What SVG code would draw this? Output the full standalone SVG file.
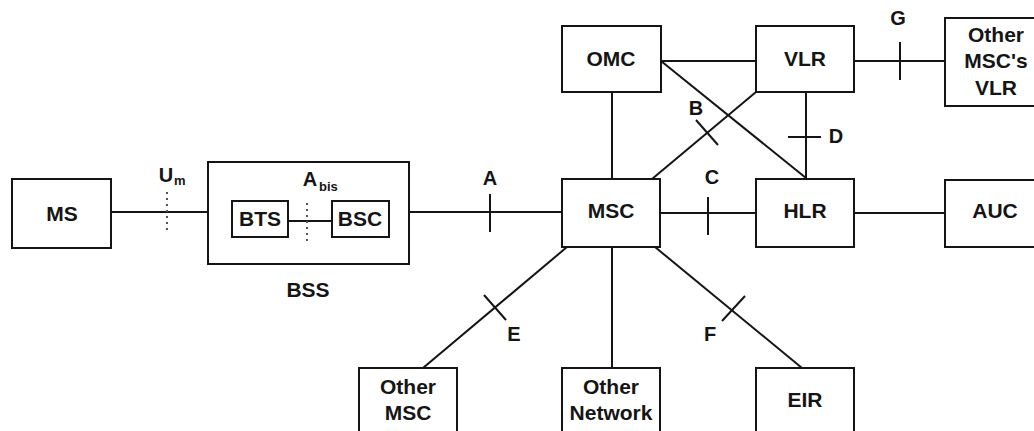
<svg xmlns="http://www.w3.org/2000/svg" width="1034" height="431" viewBox="0 0 1034 431">
<style>
.box{fill:#fff;stroke:#151515;stroke-width:2}
.ln{stroke:#151515;stroke-width:2;fill:none}
.dot{stroke:#555;stroke-width:2;stroke-dasharray:2 4;fill:none}
text{font-family:"Liberation Sans",Arial,sans-serif;font-weight:bold;fill:#151515;text-anchor:middle}
.t{font-size:21px}
.lb{font-size:20px}
.sub{font-size:13px;text-anchor:start}
</style>
<rect width="1034" height="431" fill="#fff"/>
<g id="MS"><rect class="box" x="12" y="179" width="99" height="69"/><text class="t" x="62" y="221">MS</text></g>
<g id="BSS"><rect class="box" x="208" y="162" width="201" height="102"/><text class="t" x="308" y="297">BSS</text></g>
<g id="BTS"><rect class="box" x="232" y="201" width="56" height="36"/><text class="t" x="260" y="226">BTS</text></g>
<g id="BSC"><rect class="box" x="332" y="201" width="57" height="36"/><text class="t" x="360" y="226">BSC</text></g>
<g id="OMC"><rect class="box" x="562" y="26" width="99" height="66"/><text class="t" x="611" y="66">OMC</text></g>
<g id="VLR"><rect class="box" x="756" y="26" width="98" height="66"/><text class="t" x="805" y="66">VLR</text></g>
<g id="OtherVLR"><rect class="box" x="945" y="18" width="102" height="88"/><text class="t" x="996" y="42">Other</text><text class="t" x="996" y="68">MSC's</text><text class="t" x="996" y="95">VLR</text></g>
<g id="MSC"><rect class="box" x="562" y="179" width="98" height="68"/><text class="t" x="611" y="218">MSC</text></g>
<g id="HLR"><rect class="box" x="756" y="179" width="98" height="68"/><text class="t" x="805" y="218">HLR</text></g>
<g id="AUC"><rect class="box" x="945" y="180" width="102" height="67"/><text class="t" x="995" y="218">AUC</text></g>
<g id="OtherMSC"><rect class="box" x="359" y="368" width="98" height="70"/><text class="t" x="408" y="394">Other</text><text class="t" x="408" y="420">MSC</text></g>
<g id="OtherNetwork"><rect class="box" x="562" y="368" width="98" height="70"/><text class="t" x="611" y="394">Other</text><text class="t" x="611" y="420">Network</text></g>
<g id="EIR"><rect class="box" x="756" y="368" width="98" height="70"/><text class="t" x="805" y="407">EIR</text></g>
<g id="connectors">
<line class="ln" x1="111" y1="212" x2="208" y2="212"/>
<line class="ln" x1="288" y1="221" x2="332" y2="221"/>
<line class="ln" x1="409" y1="212" x2="562" y2="212"/>
<line class="ln" x1="660" y1="213" x2="756" y2="213"/>
<line class="ln" x1="854" y1="213" x2="945" y2="213"/>
<line class="ln" x1="661" y1="61" x2="756" y2="61"/>
<line class="ln" x1="854" y1="61" x2="945" y2="61"/>
<line class="ln" x1="612" y1="92" x2="612" y2="179"/>
<line class="ln" x1="806" y1="92" x2="806" y2="179"/>
<line class="ln" x1="661" y1="61" x2="806" y2="178"/>
<line class="ln" x1="652" y1="179" x2="756" y2="92"/>
<line class="ln" x1="567" y1="247" x2="423" y2="368"/>
<line class="ln" x1="612" y1="247" x2="612" y2="368"/>
<line class="ln" x1="655" y1="247" x2="802" y2="368"/>
<line class="ln" x1="490" y1="194" x2="490" y2="232"/>
<line class="ln" x1="708" y1="197" x2="708" y2="235"/>
<line class="ln" x1="900" y1="42" x2="900" y2="80"/>
<line class="ln" x1="788" y1="137" x2="821" y2="137"/>
<line class="ln" x1="696" y1="120" x2="718" y2="145"/>
<line class="ln" x1="484" y1="295" x2="506" y2="320"/>
<line class="ln" x1="722" y1="321" x2="745" y2="296"/>
<line class="dot" x1="167" y1="192" x2="167" y2="232"/>
<line class="dot" x1="307" y1="203" x2="307" y2="241"/>
<text class="lb" x="166" y="182">U</text><text class="sub" x="174" y="185">m</text>
<text class="lb" x="310" y="186">A</text><text class="sub" x="319" y="191">bis</text>
<text class="lb" x="490" y="185">A</text>
<text class="lb" x="696" y="115">B</text>
<text class="lb" x="712" y="184">C</text>
<text class="lb" x="836" y="143">D</text>
<text class="lb" x="898" y="25">G</text>
<text class="lb" x="514" y="341">E</text>
<text class="lb" x="710" y="341">F</text>
</g>
</svg>
